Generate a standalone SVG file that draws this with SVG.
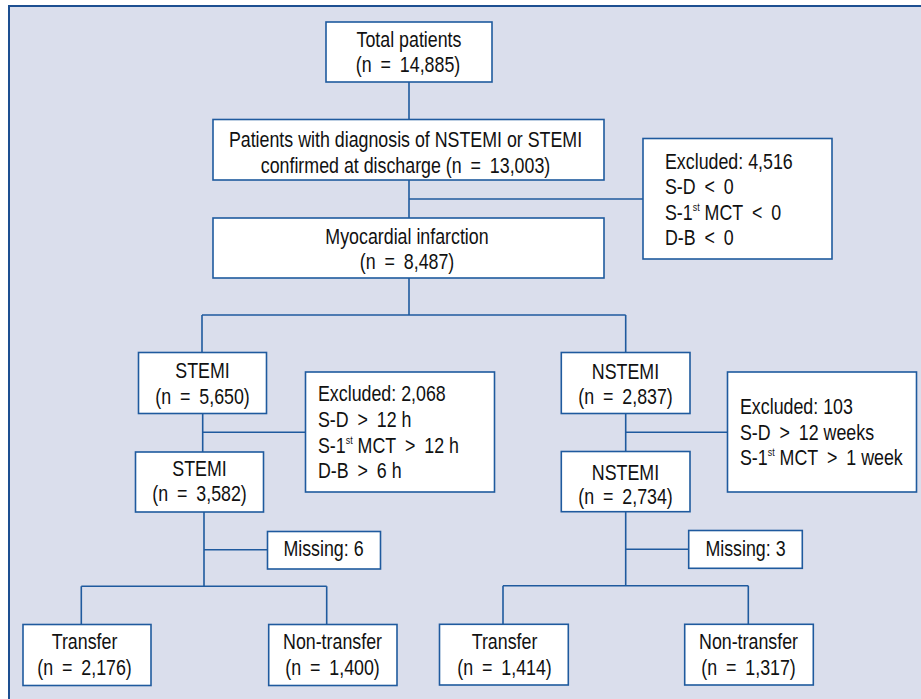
<svg xmlns="http://www.w3.org/2000/svg" width="921" height="699" viewBox="0 0 921 699">
<style>
.bg{fill:#dadeec;stroke:#1d4f91;stroke-width:2}
.box rect{fill:#ffffff;stroke:#1f5a9e;stroke-width:1.6}
text{font-family:"Liberation Sans",Arial,sans-serif;font-size:22px;fill:#111111}
.c{text-anchor:middle}
.sup{font-size:11px}
#connectors path{fill:none;stroke:#1f5a9e;stroke-width:1.6}
</style>
<rect class="bg" x="9" y="6" width="920" height="700"/>
<g id="connectors">
<path d="M409 82V119.5M409 180V218M409 278V315M202 315H625.7M202 315V352.5M625.7 315V352.5"/>
<path d="M409 199H643"/>
<path d="M202.7 413.5V452M202.7 432.3H305.5"/>
<path d="M625.7 413.5V451.5M625.7 432.3H727.5"/>
<path d="M204 512V586.3M204 549.7H267.5M81.3 586.3H326.7M81.3 586.3V624.5M326.7 586.3V624.5"/>
<path d="M625.7 511.7V585.7M625.7 549.3H688.7M503 585.7H748.3M503 585.7V624.3M748.3 585.7V624.3"/>
</g>
<g id="total" class="box"><rect x="326" y="22" width="166" height="60"/>
<text class="c" transform="translate(409,47) scale(0.81,1)">Total patients</text>
<text class="c" transform="translate(408,72) scale(0.81,1)">(n&#8194;=&#8194;14,885)</text></g>
<g id="diagnosis" class="box"><rect x="213" y="119.5" width="391" height="60.5"/>
<text class="c" transform="translate(405.5,147) scale(0.81,1)">Patients with diagnosis of NSTEMI or STEMI</text>
<text class="c" transform="translate(405.5,172.5) scale(0.81,1)">confirmed at discharge (n&#8194;=&#8194;13,003)</text></g>
<g id="mi" class="box"><rect x="213" y="218" width="391" height="60"/>
<text class="c" transform="translate(407,243.5) scale(0.81,1)">Myocardial infarction</text>
<text class="c" transform="translate(407,268.5) scale(0.81,1)">(n&#8194;=&#8194;8,487)</text></g>
<g id="excluded1" class="box"><rect x="643" y="138.5" width="189" height="120.5"/>
<text transform="translate(665,168.5) scale(0.81,1)">Excluded: 4,516</text>
<text transform="translate(665,194) scale(0.81,1)">S-D&#8194;&lt;&#8194;0</text>
<text transform="translate(665,219.5) scale(0.81,1)">S-1<tspan class="sup" dy="-9">st</tspan><tspan dy="9"> MCT&#8194;&lt;&#8194;0</tspan></text>
<text transform="translate(665,245) scale(0.81,1)">D-B&#8194;&lt;&#8194;0</text></g>
<g id="stemi1" class="box"><rect x="138.5" y="352.5" width="128" height="61"/>
<text class="c" transform="translate(202.5,377.5) scale(0.81,1)">STEMI</text>
<text class="c" transform="translate(202.5,403.5) scale(0.81,1)">(n&#8194;=&#8194;5,650)</text></g>
<g id="excluded2" class="box"><rect x="305.5" y="372" width="189" height="120"/>
<text transform="translate(318,401) scale(0.81,1)">Excluded: 2,068</text>
<text transform="translate(318,427) scale(0.81,1)">S-D&#8194;&gt;&#8194;12 h</text>
<text transform="translate(318,452.5) scale(0.81,1)">S-1<tspan class="sup" dy="-9">st</tspan><tspan dy="9"> MCT&#8194;&gt;&#8194;12 h</tspan></text>
<text transform="translate(318,478) scale(0.81,1)">D-B&#8194;&gt;&#8194;6 h</text></g>
<g id="stemi2" class="box"><rect x="135.5" y="452" width="128" height="60"/>
<text class="c" transform="translate(199.5,475.5) scale(0.81,1)">STEMI</text>
<text class="c" transform="translate(199.5,501) scale(0.81,1)">(n&#8194;=&#8194;3,582)</text></g>
<g id="missing1" class="box"><rect x="267.5" y="531.5" width="113" height="37.5"/>
<text class="c" transform="translate(323.5,556) scale(0.81,1)">Missing: 6</text></g>
<g id="transfer1" class="box"><rect x="23" y="624.5" width="128" height="61"/>
<text class="c" transform="translate(84.5,649) scale(0.81,1)">Transfer</text>
<text class="c" transform="translate(84.5,675) scale(0.81,1)">(n&#8194;=&#8194;2,176)</text></g>
<g id="nontransfer1" class="box"><rect x="268.7" y="624.5" width="128.3" height="61"/>
<text class="c" transform="translate(332.5,649) scale(0.81,1)">Non-transfer</text>
<text class="c" transform="translate(332.5,675) scale(0.81,1)">(n&#8194;=&#8194;1,400)</text></g>
<g id="nstemi1" class="box"><rect x="561.3" y="352.5" width="128.7" height="61"/>
<text class="c" transform="translate(625.5,378.5) scale(0.81,1)">NSTEMI</text>
<text class="c" transform="translate(625.5,404) scale(0.81,1)">(n&#8194;=&#8194;2,837)</text></g>
<g id="excluded3" class="box"><rect x="727.5" y="372" width="189" height="120"/>
<text transform="translate(740,414) scale(0.81,1)">Excluded: 103</text>
<text transform="translate(740,439.5) scale(0.81,1)">S-D&#8194;&gt;&#8194;12 weeks</text>
<text transform="translate(740,465) scale(0.81,1)">S-1<tspan class="sup" dy="-9">st</tspan><tspan dy="9"> MCT&#8194;&gt;&#8194;1 week</tspan></text></g>
<g id="nstemi2" class="box"><rect x="561.3" y="451.5" width="128.7" height="60.2"/>
<text class="c" transform="translate(625.5,479.5) scale(0.81,1)">NSTEMI</text>
<text class="c" transform="translate(625.5,504) scale(0.81,1)">(n&#8194;=&#8194;2,734)</text></g>
<g id="missing2" class="box"><rect x="688.7" y="530.5" width="113.6" height="37.8"/>
<text class="c" transform="translate(745.5,556) scale(0.81,1)">Missing: 3</text></g>
<g id="transfer2" class="box"><rect x="439.5" y="624.3" width="128.8" height="60.7"/>
<text class="c" transform="translate(504.5,649) scale(0.81,1)">Transfer</text>
<text class="c" transform="translate(504.5,675) scale(0.81,1)">(n&#8194;=&#8194;1,414)</text></g>
<g id="nontransfer2" class="box"><rect x="684.7" y="624.3" width="128.6" height="60.7"/>
<text class="c" transform="translate(748.5,649) scale(0.81,1)">Non-transfer</text>
<text class="c" transform="translate(748.5,675) scale(0.81,1)">(n&#8194;=&#8194;1,317)</text></g>
</svg>
